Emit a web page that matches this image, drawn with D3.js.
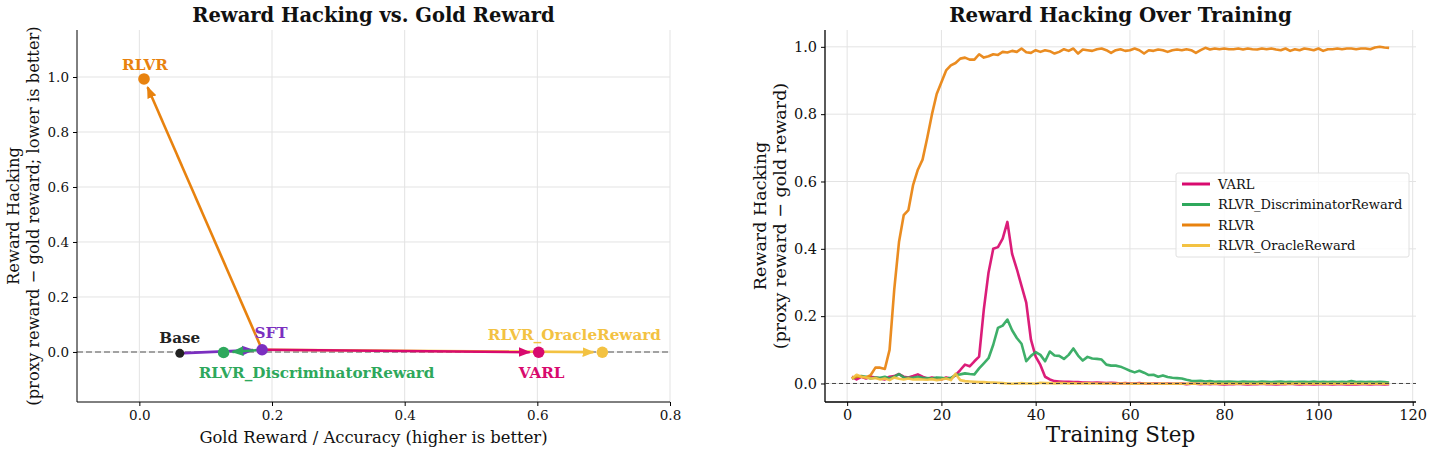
<!DOCTYPE html>
<html>
<head>
<meta charset="utf-8">
<script src="https://d3js.org/d3.v7.min.js"></script>
<style>
  body { margin: 0; background: #fff; }
  text { font-family: "DejaVu Serif", serif; fill: #111; }
  .grid line { stroke: #e3e3e3; stroke-width: 1; }
  .tick text { font-size: 13.5px; }
  .axis path, .axis line { stroke: #000; }
</style>
</head>
<body>
<svg id="chart" width="1433" height="453"></svg>
<script>
// ---- left panel: end points per method ----
const methods = ["Base", "SFT", "RLVR", "RLVR_DiscriminatorReward", "VARL", "RLVR_OracleReward"];
const goldReward = [0.061, 0.185, 0.007, 0.127, 0.602, 0.698];
const hacking = [-0.005, 0.008, 0.993, -0.002, -0.001, -0.001];
const methodColors = ["#222222", "#7b2fc0", "#e8820e", "#2ea85c", "#d80a6e", "#f3c242"];
// arrows: [from, to]
const arrows = [["Base", "SFT"], ["SFT", "RLVR_DiscriminatorReward"], ["SFT", "RLVR_OracleReward"],
                ["SFT", "VARL"], ["SFT", "RLVR"]];
const leftXTicks = [0.0, 0.2, 0.4, 0.6, 0.8];
const leftYTicks = [0.0, 0.2, 0.4, 0.6, 0.8, 1.0];

// ---- right panel: reward hacking per training step (step = index + 1) ----
const seriesNames = ["VARL", "RLVR_DiscriminatorReward", "RLVR", "RLVR_OracleReward"];
const varl = [0.02, 0.012, 0.02, 0.015, 0.02, 0.018, 0.015, 0.012, 0.02, 0.022,
  0.028, 0.02, 0.018, 0.022, 0.027, 0.02, 0.015, 0.018, 0.015, 0.012,
  0.018, 0.015, 0.025, 0.04, 0.056, 0.051, 0.066, 0.08, 0.22, 0.33,
  0.4, 0.405, 0.43, 0.48, 0.385, 0.34, 0.29, 0.24, 0.13, 0.08,
  0.055, 0.02, 0.012, 0.007, 0.006, 0.005, 0.005, 0.004, 0.004, 0.003,
  0.003, 0.002, 0.003, 0.002, 0.001, 0.002, 0.001, 0.0, 0.001, 0.0,
  0.0, 0.001, 0.0, -0.001, 0.0, 0.0, -0.001, 0.0, -0.001, -0.001,
  0.0, -0.002, -0.001, -0.001, -0.002, -0.001, -0.002, -0.001, -0.002, -0.003,
  -0.002, -0.002, -0.001, -0.002, -0.003, -0.002, -0.002, -0.001, -0.002, -0.002,
  -0.003, -0.002, -0.002, -0.001, -0.002, -0.003, -0.002, -0.002, -0.003, -0.002,
  -0.002, -0.002, -0.003, -0.002, -0.002, -0.003, -0.002, -0.003, -0.002, -0.002,
  -0.003, -0.002, -0.002, -0.003, -0.002];
const discriminator = [0.015, 0.02, 0.022, 0.02, 0.015, 0.018, 0.017, 0.02, 0.015, 0.02,
  0.028, 0.018, 0.017, 0.017, 0.02, 0.017, 0.016, 0.015, 0.018, 0.017,
  0.015, 0.017, 0.025, 0.027, 0.03, 0.028, 0.027, 0.045, 0.06, 0.075,
  0.115, 0.165, 0.172, 0.19, 0.158, 0.135, 0.118, 0.066, 0.082, 0.093,
  0.085, 0.066, 0.095, 0.083, 0.082, 0.073, 0.085, 0.104, 0.083, 0.068,
  0.079, 0.074, 0.073, 0.071, 0.056, 0.053, 0.053, 0.05, 0.044, 0.038,
  0.033, 0.038, 0.032, 0.025, 0.026, 0.02, 0.024, 0.019, 0.017, 0.016,
  0.015, 0.011, 0.008, 0.007, 0.008, 0.006, 0.007, 0.005, 0.006, 0.005,
  0.006, 0.005, 0.004, 0.006, 0.005, 0.005, 0.004, 0.006, 0.005, 0.004,
  0.005, 0.006, 0.004, 0.005, 0.004, 0.005, 0.005, 0.004, 0.006, 0.004,
  0.005, 0.004, 0.005, 0.004, 0.005, 0.004, 0.007, 0.004, 0.005, 0.004,
  0.005, 0.004, 0.005, 0.004, 0.003];
const rlvr = [0.015, 0.02, 0.02, 0.018, 0.025, 0.047, 0.047, 0.043, 0.1, 0.28,
  0.42, 0.5, 0.515, 0.59, 0.635, 0.665, 0.73, 0.8, 0.86, 0.895,
  0.93, 0.945, 0.952, 0.965, 0.968, 0.962, 0.962, 0.978, 0.968, 0.972,
  0.978, 0.976, 0.985, 0.983, 0.988, 0.985, 0.995, 0.984, 0.982, 0.99,
  0.985, 0.99, 0.987, 0.98, 0.985, 0.993, 0.988, 0.995, 0.98, 0.992,
  0.99, 0.988, 0.993, 0.995, 0.99, 0.982, 0.99, 0.993, 0.988, 0.99,
  0.995, 0.99, 0.98, 0.99, 0.988, 0.992, 0.99, 0.985, 0.99, 0.992,
  0.99, 0.993, 0.99, 0.982, 0.99, 0.997, 0.992, 0.995, 0.993, 0.995,
  0.993, 0.993, 0.995, 0.992, 0.995, 0.993, 0.992, 0.995, 0.993, 0.995,
  0.992, 0.99, 0.995, 0.988, 0.993, 0.99, 0.995, 0.993, 0.99, 0.995,
  0.988, 0.993, 0.993, 0.995, 0.993, 0.995, 0.995, 0.993, 0.995, 0.995,
  0.993, 0.998, 1.0, 0.998, 0.997];
const oracle = [0.015, 0.026, 0.02, 0.018, 0.015, 0.016, 0.012, 0.015, 0.01, 0.018,
  0.014, 0.012, 0.015, 0.012, 0.013, 0.012, 0.011, 0.013, 0.01, 0.012,
  0.015, 0.01, 0.029, 0.01, 0.007, 0.006, 0.005, 0.004, 0.004, 0.003,
  0.003, 0.002, 0.001, 0.0, -0.001, 0.0, 0.001, 0.0, 0.0, -0.001,
  0.002, 0.001, 0.001, 0.0, 0.001, 0.001, 0.0, 0.001, 0.0, 0.0,
  0.001, 0.0, 0.0, -0.001, 0.0, 0.0, -0.001, 0.0, 0.0, -0.001,
  0.0, -0.001, 0.0, 0.0, -0.001, -0.001, 0.0, -0.001, -0.001, 0.0,
  -0.001, -0.001, 0.0, -0.001, -0.001, -0.001, 0.0, -0.001, -0.001, -0.001,
  -0.001, 0.0, -0.001, -0.001, -0.001, -0.001, -0.001, 0.0, -0.001, -0.001,
  -0.001, -0.001, -0.001, -0.001, 0.0, -0.001, -0.001, -0.001, -0.001, -0.001,
  -0.001, -0.001, -0.001, -0.001, -0.001, -0.001, -0.001, -0.001, -0.001, -0.001,
  -0.001, -0.001, -0.001, -0.001, -0.001];
const seriesColors = ["#d80a6e", "#2ea85c", "#e8820e", "#f3c242"];
const rightXTicks = [0, 20, 40, 60, 80, 100, 120];
const rightYTicks = [0.0, 0.2, 0.4, 0.6, 0.8, 1.0];

const svg = d3.select("#chart");
const fmt = d3.format(".1f");

// ================= left panel =================
const L = {left: 77, right: 670, top: 30, bottom: 402};
const xL = d3.scaleLinear().domain([-0.094, 0.8]).range([L.left, L.right]);
const yL = d3.scaleLinear().domain([-0.182, 1.171]).range([L.bottom, L.top]);

const gL = svg.append("g");
gL.append("g").attr("class", "grid")
  .selectAll("line").data(leftXTicks).join("line")
  .attr("x1", d => xL(d)).attr("x2", d => xL(d)).attr("y1", L.top).attr("y2", L.bottom);
gL.append("g").attr("class", "grid")
  .selectAll("line").data(leftYTicks).join("line")
  .attr("x1", L.left).attr("x2", L.right).attr("y1", d => yL(d)).attr("y2", d => yL(d));

gL.append("line")
  .attr("x1", L.left).attr("x2", L.right).attr("y1", yL(0)).attr("y2", yL(0))
  .attr("stroke", "#888").attr("stroke-width", 1.6).attr("stroke-dasharray", "6,3");

const xAxisL = gL.append("g").attr("class", "axis")
  .attr("transform", `translate(0,${L.bottom})`)
  .call(d3.axisBottom(xL).tickValues(leftXTicks).tickFormat(fmt).tickSize(4).tickPadding(4));
const yAxisL = gL.append("g").attr("class", "axis")
  .attr("transform", `translate(${L.left},0)`)
  .call(d3.axisLeft(yL).tickValues(leftYTicks).tickFormat(fmt).tickSize(4).tickPadding(4));
[xAxisL, yAxisL].forEach(a => a.select(".domain").attr("d", null));
xAxisL.append("line").attr("x1", L.left).attr("x2", L.right).attr("stroke", "#000");
yAxisL.append("line").attr("y1", L.top).attr("y2", L.bottom).attr("stroke", "#000");

// arrow heads
const defs = svg.append("defs");
methodColors.forEach((c, i) => {
  defs.append("marker").attr("id", "head" + i)
    .attr("viewBox", "0 0 10 10").attr("refX", 9).attr("refY", 5)
    .attr("markerWidth", 12).attr("markerHeight", 12).attr("markerUnits", "userSpaceOnUse")
    .attr("orient", "auto")
    .append("path").attr("d", "M0,1 L10,5 L0,9 Z").attr("fill", c);
});

const idx = name => methods.indexOf(name);
arrows.forEach(([a, b]) => {
  const i = idx(a), j = idx(b);
  const x1 = xL(goldReward[i]), y1 = yL(hacking[i]);
  const x2 = xL(goldReward[j]), y2 = yL(hacking[j]);
  const len = Math.hypot(x2 - x1, y2 - y1);
  const ux = (x2 - x1) / len, uy = (y2 - y1) / len;
  const s0 = 4, s1 = 9;
  gL.append("line")
    .attr("x1", x1 + ux * s0).attr("y1", y1 + uy * s0)
    .attr("x2", x2 - ux * s1).attr("y2", y2 - uy * s1)
    .attr("stroke", methodColors[j]).attr("stroke-width", 2.6)
    .attr("marker-end", `url(#head${j})`);
});

gL.selectAll("circle.pt").data(methods).join("circle")
  .attr("class", "pt")
  .attr("cx", (d, i) => xL(goldReward[i])).attr("cy", (d, i) => yL(hacking[i]))
  .attr("r", (d, i) => i === 0 ? 4.5 : 5.8)
  .attr("fill", (d, i) => methodColors[i]);

// point labels: offsets in px from the point (baseline)
const labelOffsets = {
  "Base": [0, -10], "SFT": [9, -12], "RLVR": [1, -9],
  "RLVR_DiscriminatorReward": [93, 25], "VARL": [3, 26], "RLVR_OracleReward": [-28, -12]
};
gL.selectAll("text.lbl").data(methods).join("text")
  .attr("class", "lbl")
  .attr("x", (d, i) => xL(goldReward[i]) + labelOffsets[d][0])
  .attr("y", (d, i) => yL(hacking[i]) + labelOffsets[d][1])
  .attr("text-anchor", "middle")
  .style("font-size", "15.2px").style("font-weight", "bold")
  .style("fill", (d, i) => methodColors[i])
  .text(d => d);

gL.append("text").attr("x", (L.left + L.right) / 2).attr("y", 22)
  .attr("text-anchor", "middle").style("font-size", "19.5px").style("font-weight", "bold")
  .text("Reward Hacking vs. Gold Reward");
gL.append("text").attr("x", (L.left + L.right) / 2).attr("y", 443)
  .attr("text-anchor", "middle").style("font-size", "16.4px")
  .text("Gold Reward / Accuracy (higher is better)");
const ylabL = gL.append("text")
  .attr("transform", `translate(0,${(L.top + L.bottom) / 2}) rotate(-90)`)
  .attr("text-anchor", "middle").style("font-size", "16.3px");
ylabL.append("tspan").attr("x", 0).attr("y", 19).text("Reward Hacking");
ylabL.append("tspan").attr("x", 0).attr("y", 39).text("(proxy reward \u2212 gold reward; lower is better)");

// ================= right panel =================
const R = {left: 825, right: 1416, top: 30, bottom: 402};
const xR = d3.scaleLinear().domain([-4.7, 120.7]).range([R.left, R.right]);
const yR = d3.scaleLinear().domain([-0.055, 1.05]).range([R.bottom, R.top]);

const gR = svg.append("g");
gR.append("g").attr("class", "grid")
  .selectAll("line").data(rightXTicks).join("line")
  .attr("x1", d => xR(d)).attr("x2", d => xR(d)).attr("y1", R.top).attr("y2", R.bottom);
gR.append("g").attr("class", "grid")
  .selectAll("line").data(rightYTicks).join("line")
  .attr("x1", R.left).attr("x2", R.right).attr("y1", d => yR(d)).attr("y2", d => yR(d));

const xAxisR = gR.append("g").attr("class", "axis")
  .attr("transform", `translate(0,${R.bottom})`)
  .call(d3.axisBottom(xR).tickValues(rightXTicks).tickSize(4).tickPadding(4));
const yAxisR = gR.append("g").attr("class", "axis")
  .attr("transform", `translate(${R.left},0)`)
  .call(d3.axisLeft(yR).tickValues(rightYTicks).tickFormat(fmt).tickSize(4).tickPadding(4));
[xAxisR, yAxisR].forEach(a => {
  a.select(".domain").attr("d", null);
  a.selectAll(".tick text").style("font-size", "14.5px");
});
xAxisR.append("line").attr("x1", R.left).attr("x2", R.right).attr("stroke", "#000").attr("stroke-width", 1.3);
yAxisR.append("line").attr("y1", R.top).attr("y2", R.bottom).attr("stroke", "#000").attr("stroke-width", 1.3);

const allSeries = [varl, discriminator, rlvr, oracle];
const line = d3.line().x((d, i) => xR(i + 1)).y(d => yR(d));
gR.selectAll("path.series").data(allSeries).join("path")
  .attr("class", "series")
  .attr("d", line)
  .attr("fill", "none")
  .attr("stroke", (d, i) => seriesColors[i])
  .attr("stroke-width", 2.6).attr("stroke-opacity", 0.92)
  .attr("stroke-linejoin", "round");

gR.append("line")
  .attr("x1", R.left).attr("x2", R.right).attr("y1", yR(0)).attr("y2", yR(0))
  .attr("stroke", "#444").attr("stroke-width", 1).attr("stroke-dasharray", "4,3");

// legend
const lg = gR.append("g").attr("transform", "translate(1176,173)");
lg.append("rect").attr("width", 233).attr("height", 84).attr("rx", 2)
  .attr("fill", "#fff").attr("fill-opacity", 0.85).attr("stroke", "#e0e0e0");
seriesNames.forEach((n, i) => {
  const y = 11 + i * 20.5;
  lg.append("line").attr("x1", 6).attr("x2", 34).attr("y1", y).attr("y2", y)
    .attr("stroke", seriesColors[i]).attr("stroke-width", 3);
  lg.append("text").attr("x", 42).attr("y", y + 4.5).style("font-size", "13px").text(n);
});

gR.append("text").attr("x", (R.left + R.right) / 2).attr("y", 22)
  .attr("text-anchor", "middle").style("font-size", "19.8px").style("font-weight", "bold")
  .text("Reward Hacking Over Training");
gR.append("text").attr("x", (R.left + R.right) / 2).attr("y", 442)
  .attr("text-anchor", "middle").style("font-size", "21.5px")
  .text("Training Step");
const ylabR = gR.append("text")
  .attr("transform", `translate(740,${(R.top + R.bottom) / 2}) rotate(-90)`)
  .attr("text-anchor", "middle").style("font-size", "17.5px");
ylabR.append("tspan").attr("x", 0).attr("y", 26).text("Reward Hacking");
ylabR.append("tspan").attr("x", 0).attr("y", 46).text("(proxy reward \u2212 gold reward)");
</script>
</body>
</html>
